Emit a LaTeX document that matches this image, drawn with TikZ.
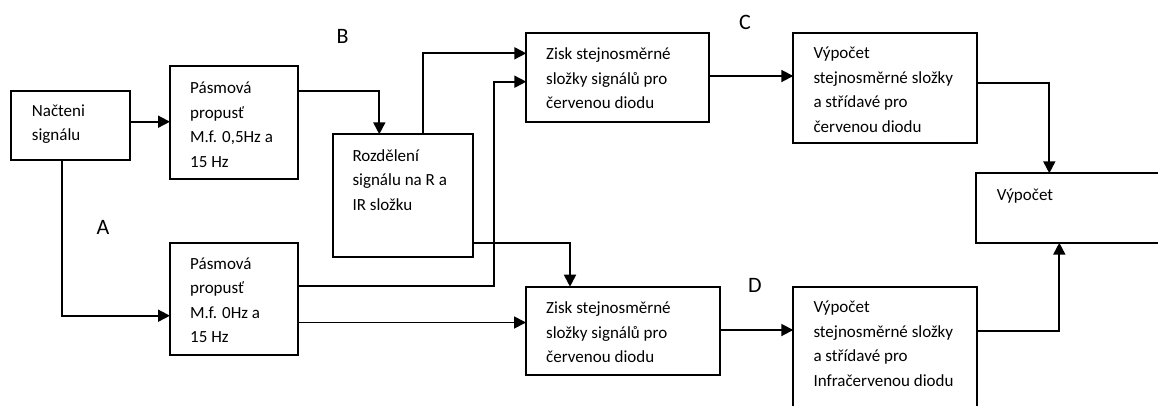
\documentclass[tikz,border=0pt]{standalone}
\usepackage{fontspec}
\setmainfont{Carlito}
\usetikzlibrary{arrows.meta}
\begin{document}
\begin{tikzpicture}[x=1pt,y=-1pt,
  box/.style={draw, line width=1.8pt, inner sep=0pt, outer sep=0pt},
  txt/.style={anchor=north west, align=left, inner sep=0pt, font=\fontsize{17}{24.5}\selectfont},
  lbl/.style={font=\fontsize{22}{24}\selectfont, inner sep=0pt},
  ln/.style={line width=1.8pt},
  arr/.style={line width=1.8pt, -{Triangle[length=12pt,width=12pt]}}]
\clip (0,0) rectangle (1158,405);
\fill[white] (0,0) rectangle (1158,405);
% boxes
\node[box, minimum width=119.3pt, minimum height=69.3pt] (nac) at (70.35,125.35) {};
\node[box, minimum width=127.7pt, minimum height=113pt] (pas1) at (233.85,122.5) {};
\node[box, minimum width=139.4pt, minimum height=122.7pt] (roz) at (403,195.65) {};
\node[box, minimum width=127.7pt, minimum height=112.3pt] (pas2) at (233.85,298.85) {};
\node[box, minimum width=183pt, minimum height=89pt] (zisk1) at (617.8,77.2) {};
\node[box, minimum width=183.4pt, minimum height=110.6pt] (vyp1) at (885,88) {};
\node[box, minimum width=189pt, minimum height=69.4pt] (fin) at (1070.5,208) {};
\node[box, minimum width=194pt, minimum height=88.3pt] (zisk2) at (623,330.85) {};
\node[box, minimum width=183.4pt, minimum height=128.3pt] (vyp2) at (885,350.85) {};
% texts
\node[txt] (nac-t) at (31.7,99) {\strut Načteni\\signálu};
\node[txt] (pas1-t) at (190,76.3) {\strut Pásmová\\propusť\\M.f. 0,5Hz a\\15 Hz};
\node[txt] (roz-t) at (352.3,144) {\strut Rozdělení\\signálu na R a\\IR složku};
\node[txt] (pas2-t) at (190,252) {\strut Pásmová\\propusť\\M.f. 0Hz a\\15 Hz};
\node[txt] (zisk1-t) at (546,42.3) {\strut Zisk stejnosměrné\\složky signálů pro\\červenou diodu};
\node[txt] (vyp1-t) at (813.3,41.3) {\strut Výpočet\\stejnosměrné složky\\a střídavé pro\\červenou diodu};
\node[txt] (fin-t) at (996.7,183) {\strut Výpočet};
\node[txt] (zisk2-t) at (546,296.3) {\strut Zisk stejnosměrné\\složky signálů pro\\červenou diodu};
\node[txt] (vyp2-t) at (813.3,295.3) {\strut Výpočet\\stejnosměrné složky\\a střídavé pro\\Infračervenou diodu};
% labels
\node[lbl] (lA) at (103,227) {A};
\node[lbl] (lB) at (342.7,36) {B};
\node[lbl] (lC) at (745,22.5) {C};
\node[lbl] (lD) at (755,285) {D};
% connectors
\draw[arr] (nac.east |- 0,121.7) -- (pas1.west |- 0,121.7);
\draw[arr] (pas1.east |- 0,91) -| (roz.north -| 379.3,0);
\draw[arr] (roz.north -| 422.7,0) |- (zisk1.west |- 0,53.3);
\draw[arr] (pas2.east |- 0,286) -| (494,81.7) -- (zisk1.west |- 0,81.7);
\draw[arr] (roz.east |- 0,243) -| (zisk2.north -| 570,0);
\draw[arr] (nac.south -| 62,0) |- (pas2.west |- 0,315.7);
\draw[arr] (pas2.east |- 0,322.5) -- (zisk2.west |- 0,322.5);
\draw[arr] (zisk1.east |- 0,76) -- (vyp1.west |- 0,76);
\draw[arr] (vyp1.east |- 0,82.7) -| (fin.north -| 1049.3,0);
\draw[arr] (zisk2.east |- 0,330) -- (vyp2.west |- 0,330);
\draw[arr] (vyp2.east |- 0,330.7) -| (fin.south -| 1059.3,0);
\end{tikzpicture}
\end{document}
